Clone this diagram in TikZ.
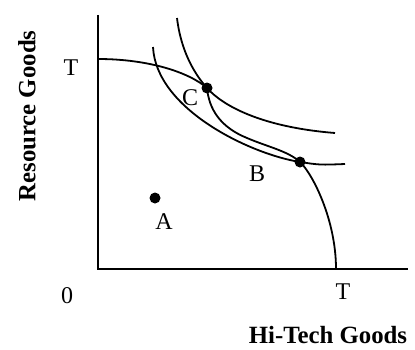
\documentclass[tikz,border=0pt]{standalone}
\usepackage{fontspec}
\setmainfont{Liberation Serif}
\usetikzlibrary{positioning,calc}

\begin{document}
\begin{tikzpicture}[
    x=0.5pt, y=0.5pt,
    axis/.style={line width=1.2pt},
    curve/.style={line width=0.9pt},
    pt/.style={circle, fill=black, inner sep=0pt, minimum size=5.5pt},
    lbl/.style={font=\fontsize{12}{14}\selectfont, inner sep=0pt},
    title/.style={font=\fontsize{12.4}{14}\selectfont\bfseries, inner sep=0pt}
]
\useasboundingbox (0,0) rectangle (415,349);

% axes
\coordinate (O) at (98,80);
\coordinate (ytop) at (98,334);
\coordinate (xend) at (408,80);
\draw[axis] (ytop) -- (O) -- (xend);

% points on the curves
\coordinate (Ty) at (98,290);
\coordinate (Tx) at (336,80);
\coordinate (C) at (207,261);
\coordinate (B) at (300,187);

% production possibility frontier
\draw[curve] (Ty) .. controls (150,290) and (190,276) .. (C)
    .. controls (209,240) and (220,222) .. (247,211)
    .. controls (268,202) and (288,198) .. (B)
    .. controls (312,176) and (336,130) .. (Tx);

% indifference curves
\draw[curve] (153,302) .. controls (156,240) and (250,195) .. (B)
    .. controls (320,184) .. (345,185);
\draw[curve] (177,331) .. controls (180,305) and (190,280) .. (C)
    .. controls (222,244) and (260,222) .. (335,216);

% dots and labels
\node[pt] (dotC) at (C) {};
\node[pt] (dotB) at (B) {};
\node[pt] (dotA) at (155,151) {};
\node[lbl] (labC) at (190,251) {C};
\node[lbl] (labB) at (257,175) {B};
\node[lbl] (labA) at (164,127) {A};
\node[lbl] (labTy) at (71,281) {T};
\node[lbl] (labTx) at (343,57) {T};
\node[lbl] (zero) at (67,53) {0};

% axis titles
\node[title, rotate=90] (ytitle) at (27,233) {Resource Goods};
\node[title] (xtitle) at (328,14) {Hi-Tech Goods};
\end{tikzpicture}
\end{document}
